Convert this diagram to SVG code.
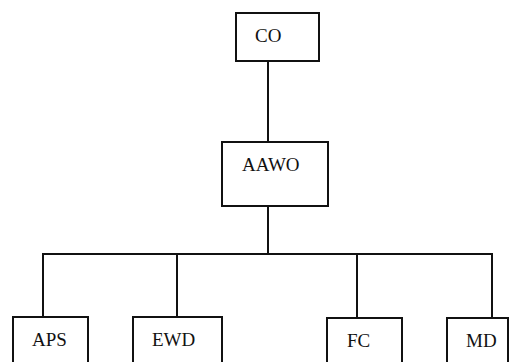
<svg xmlns="http://www.w3.org/2000/svg" width="511" height="362" viewBox="0 0 511 362">
<style>
.box{fill:#fff;stroke:#111;stroke-width:2}
.lbl{font-family:"Liberation Serif","Times New Roman",serif;font-size:19px;fill:#111}
.con{fill:none;stroke:#111;stroke-width:2}
</style>
<rect width="511" height="362" fill="#fff"/>
<g id="connectors">
<line class="con" x1="268" y1="61" x2="268" y2="142"/>
<line class="con" x1="268" y1="206" x2="268" y2="254"/>
<polyline class="con" points="43,317 43,254 492,254 492,318"/>
<line class="con" x1="177" y1="254" x2="177" y2="317"/>
<line class="con" x1="357" y1="254" x2="357" y2="318"/>
</g>
<g id="CO"><rect class="box" x="236" y="13" width="83" height="48"/><text class="lbl" x="255" y="42">CO</text></g>
<g id="AAWO"><rect class="box" x="222" y="142" width="106" height="64"/><text class="lbl" x="242" y="171">AAWO</text></g>
<g id="APS"><rect class="box" x="13" y="317" width="75" height="60"/><text class="lbl" x="32" y="346">APS</text></g>
<g id="EWD"><rect class="box" x="133" y="317" width="89" height="60"/><text class="lbl" x="152" y="346">EWD</text></g>
<g id="FC"><rect class="box" x="327" y="318" width="75" height="60"/><text class="lbl" x="347" y="347">FC</text></g>
<g id="MD"><rect class="box" x="447" y="318" width="61" height="60"/><text class="lbl" x="466" y="347">MD</text></g>
</svg>
